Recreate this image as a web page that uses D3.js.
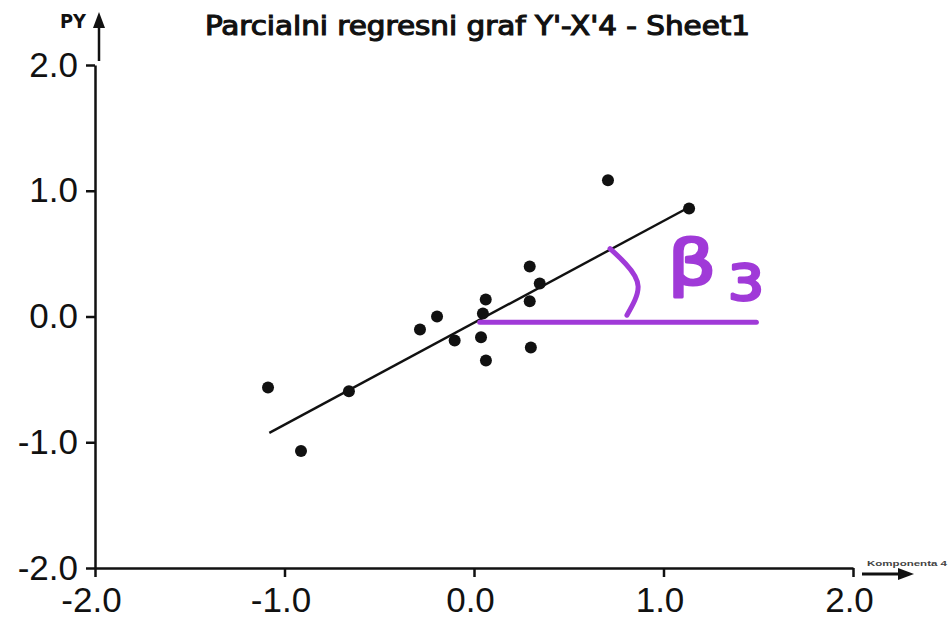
<!DOCTYPE html>
<html>
<head>
<meta charset="utf-8">
<script src="https://cdn.jsdelivr.net/npm/d3@7"></script>
<style>
  html, body { margin: 0; padding: 0; background: #fff; }
  svg { display: block; }
</style>
</head>
<body>
<svg id="chart" width="951" height="629"></svg>
<script>
// ---- data ----
const titleText = "Parcialni regresni graf Y'-X'4 - Sheet1";
const yAxisLabel = "PY";
const xAxisLabel = "Komponenta 4";
const xTicks = [-2, -1, 0, 1, 2];
const yTicks = [-2, -1, 0, 1, 2];
const pointX = [-1.087, -0.913, -0.66, -0.285, -0.195, -0.102, 0.037, 0.062, 0.047, 0.063, 0.294, 0.294, 0.347, 0.30, 0.707, 1.135];
const pointY = [-0.565, -1.07, -0.594, -0.103, 0.0, -0.19, -0.165, 0.135, 0.024, -0.35, 0.398, 0.122, 0.262, -0.247, 1.084, 0.859];
const fitX = [-1.08, 1.13];
const fitY = [-0.925, 0.865];
// hand-drawn annotation (purple): base line, angle arc, label
const baseX = [0.03, 1.49];
const baseY = [-0.045, -0.045];
const arcX = [0.718, 0.80, 0.866, 0.807];
const arcY = [0.54, 0.42, 0.24, 0.01];
const annoLabel = "β";
const annoSub = "3";

// ---- layout ----
const svg = d3.select("#chart");
const x = d3.scaleLinear().domain([-2, 2]).range([95, 853]);
const y = d3.scaleLinear().domain([-2, 2]).range([568, 65]);
const ink = "#111";
const purple = "#a03ad8";
const tickFont = "'Liberation Sans', Arial, sans-serif";
const fmt = d => d3.format(".1f")(d).replace("\u2212", "-");

// title
svg.append("text")
  .attr("x", 205).attr("y", 35)
  .attr("textLength", 545).attr("lengthAdjust", "spacingAndGlyphs")
  .style("font-family", "'Liberation Sans Narrow', 'DejaVu Sans Condensed', sans-serif")
  .style("font-size", "27px").attr("fill", ink).attr("stroke", ink).attr("stroke-width", 1.1)
  .text(titleText);

// y axis
const yAxis = d3.axisLeft(y).tickValues(yTicks).tickFormat(fmt)
  .tickSize(9).tickSizeOuter(0).tickPadding(8);
const gy = svg.append("g").attr("transform", `translate(${x(-2)},0)`).call(yAxis);
gy.select(".domain").attr("stroke", ink).attr("stroke-width", 2.5);
gy.selectAll(".tick line").attr("stroke", ink).attr("stroke-width", 2.5);
gy.selectAll(".tick text").style("font-family", tickFont).style("font-size", "35px").attr("fill", ink);

// x axis
const xAxis = d3.axisBottom(x).tickValues(xTicks).tickFormat(fmt)
  .tickSize(9).tickSizeOuter(0).tickPadding(10);
const gx = svg.append("g").attr("transform", `translate(0,${y(-2)})`).call(xAxis);
gx.select(".domain").attr("stroke", ink).attr("stroke-width", 2.5);
gx.selectAll(".tick line").attr("stroke", ink).attr("stroke-width", 2.5);
gx.selectAll(".tick text").style("font-family", tickFont).style("font-size", "35px").attr("fill", ink)
  .attr("dx", "-4");

// axis arrows
const ax = svg.append("g");
ax.append("line").attr("x1", x(-2) + 4).attr("x2", x(-2) + 4).attr("y1", y(2) - 4).attr("y2", 22)
  .attr("stroke", ink).attr("stroke-width", 2.5);
ax.append("path").attr("d", `M${x(-2) + 4},12 L${x(-2) - 2},28 L${x(-2) + 10},28 Z`).attr("fill", ink);
ax.append("line").attr("x1", x(2) + 9).attr("x2", 900).attr("y1", y(-2) + 6).attr("y2", y(-2) + 6)
  .attr("stroke", ink).attr("stroke-width", 3);
ax.append("path").attr("d", `M914,${y(-2) + 6} L898,${y(-2)} L898,${y(-2) + 12} Z`).attr("fill", ink);

// axis labels
svg.append("text").attr("x", 60).attr("y", 28)
  .attr("textLength", 26).attr("lengthAdjust", "spacingAndGlyphs")
  .style("font-family", "'Liberation Sans Narrow', 'DejaVu Sans Condensed', sans-serif")
  .style("font-weight", "bold").style("font-size", "20px").attr("fill", ink).text(yAxisLabel);
svg.append("text").attr("x", 867).attr("y", 566)
  .attr("textLength", 80).attr("lengthAdjust", "spacingAndGlyphs")
  .style("font-family", "'Liberation Sans', sans-serif")
  .style("font-weight", "bold").style("font-size", "7px").attr("fill", "#444").text(xAxisLabel);

// regression line
svg.append("line")
  .attr("x1", x(fitX[0])).attr("y1", y(fitY[0]))
  .attr("x2", x(fitX[1])).attr("y2", y(fitY[1]))
  .attr("stroke", ink).attr("stroke-width", 2.4);

// points
svg.append("g").selectAll("circle").data(d3.range(pointX.length)).join("circle")
  .attr("cx", i => x(pointX[i])).attr("cy", i => y(pointY[i]))
  .attr("r", 6).attr("fill", ink);

// purple annotation
const anno = svg.append("g").attr("fill", "none").attr("stroke", purple)
  .attr("stroke-width", 5).attr("stroke-linecap", "round");
anno.append("line")
  .attr("x1", x(baseX[0])).attr("y1", y(baseY[0]))
  .attr("x2", x(baseX[1])).attr("y2", y(baseY[1]));
anno.append("path")
  .attr("d", d3.line().x(i => x(arcX[i])).y(i => y(arcY[i])).curve(d3.curveNatural)(d3.range(arcX.length)));

svg.append("text").attr("x", 668).attr("y", 284)
  .attr("textLength", 48).attr("lengthAdjust", "spacingAndGlyphs")
  .style("font-family", "'DejaVu Sans', sans-serif").style("font-size", "62px")
  .attr("fill", purple).attr("stroke", purple).attr("stroke-width", 3).attr("stroke-linejoin", "round")
  .text(annoLabel);
svg.append("text").attr("x", 728).attr("y", 300)
  .attr("textLength", 36).attr("lengthAdjust", "spacingAndGlyphs")
  .style("font-family", "'DejaVu Sans', sans-serif").style("font-size", "50px")
  .attr("fill", purple).attr("stroke", purple).attr("stroke-width", 3).attr("stroke-linejoin", "round")
  .text(annoSub);
</script>
</body>
</html>
